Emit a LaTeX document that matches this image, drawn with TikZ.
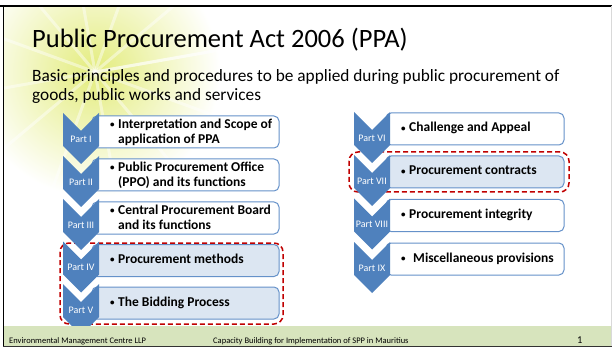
\documentclass[tikz,border=0pt]{standalone}
\usepackage{fontspec}
\setmainfont{Carlito}
\definecolor{chevblue}{HTML}{4F81BD}
\definecolor{boxline}{HTML}{6591C9}
\definecolor{boxhi}{HTML}{DCE6F2}
\definecolor{dashred}{HTML}{C00000}
\definecolor{footgreen}{HTML}{D7E4BD}
\definecolor{wmark}{HTML}{E3EC7C}
\tikzset{
  chev/.style={fill=chevblue, draw=none},
  part box/.style={draw=boxline, line width=1pt, rounded corners=5pt, fill=white, inner sep=0pt},
  part box hi/.style={part box, fill=boxhi},
  part label/.style={text=white, font=\fontsize{10}{12}\selectfont, inner sep=0pt},
  item text/.style={anchor=west, inner sep=0pt, font=\bfseries\fontsize{13.5}{15}\selectfont},
  focus frame/.style={draw=dashred, line width=1.5pt, dash pattern=on 5pt off 3pt, rounded corners=9pt},
  foot text/.style={anchor=base west, inner sep=0pt, font=\fontsize{8.5}{9}\selectfont},
}
% chevron: centre x, top y
\newcommand\partchev[2]{%
  \fill[chev] ({#1-18},#2) -- (#1,{#2+18}) -- ({#1+18},#2) -- ({#1+18},{#2+33})
    -- (#1,{#2+51}) -- ({#1-18},{#2+33}) -- cycle;}
\newcommand\bul{\raisebox{0.6pt}{\fontsize{9}{9}\selectfont\textbullet}}
\newcommand\itemline[2][8pt]{\begin{tabular}{@{}p{#1}@{}l@{}}\bul & #2\end{tabular}}
\newcommand\itemlines[2]{\begin{tabular}{@{}p{8pt}@{}l@{}}\bul & #1\\ & #2\end{tabular}}

\begin{document}
\begin{tikzpicture}[x=1pt, y=-1pt]
  \useasboundingbox (0,0) rectangle (612,347);
  % watermark
  \begin{scope}
    \clip (3.3,5.7) rectangle (611,326);
    \shade[inner color=wmark, outer color=white] (95,72) circle (125pt);
    \foreach \a in {10,40,...,370}
      \draw[white, line width=3pt, opacity=0.45] (95,72) -- ++(\a:122pt);
  \end{scope}

  \node[anchor=base west, inner sep=0pt, font=\fontsize{26.5}{30}\selectfont] (title) at (32,48)
    {Public Procurement Act 2006 (PPA)};
  \node[anchor=base west, inner sep=0pt, font=\fontsize{17.3}{19}\selectfont] (sub1) at (32,82)
    {Basic principles and procedures to be applied during public procurement of};
  \node[anchor=base west, inner sep=0pt, font=\fontsize{17.3}{19}\selectfont] (sub2) at (32,101)
    {goods, public works and services};

  % dashed focus frames
  \draw[focus frame] (60,243) rectangle (283,324);
  \draw[focus frame] (349,152) rectangle (569,192);

  % left column
  \node[part box, minimum width=187pt, minimum height=32pt] (b1) at (185.5,132) {};
  \node[part box, minimum width=187pt, minimum height=32pt] (b2) at (185.5,175) {};
  \node[part box, minimum width=187pt, minimum height=32pt] (b3) at (185.5,218) {};
  \node[part box hi, minimum width=187pt, minimum height=32pt] (b4) at (185.5,260.5) {};
  \node[part box hi, minimum width=187pt, minimum height=32pt] (b5) at (185.5,303) {};
  \partchev{81}{113}
  \partchev{81}{156}
  \partchev{81}{199}
  \partchev{81}{241.5}
  \partchev{81}{284}
  \node[part label] (p1) at (81,139) {Part I};
  \node[part label] (p2) at (81,182) {Part II};
  \node[part label] (p3) at (81,225) {Part III};
  \node[part label] (p4) at (81,267.5) {Part IV};
  \node[part label] (p5) at (81,310) {Part V};
  \node[item text] (t1) at (110,133) {\itemlines{Interpretation and Scope of}{application of PPA}};
  \node[item text] (t2) at (110,176) {\itemlines{Public Procurement Office}{(PPO) and its functions}};
  \node[item text] (t3) at (110,219) {\itemlines{Central Procurement Board}{and its functions}};
  \node[item text] (t4) at (110,260.5) {\itemline{Procurement methods}};
  \node[item text] (t5) at (110,303) {\itemline{The Bidding Process}};

  % right column
  \node[part box, minimum width=178pt, minimum height=32pt] (b6) at (475,129) {};
  \node[part box hi, minimum width=178pt, minimum height=32pt] (b7) at (475,172) {};
  \node[part box, minimum width=178pt, minimum height=32pt] (b8) at (475,215.5) {};
  \node[part box, minimum width=178pt, minimum height=32pt] (b9) at (475,259) {};
  \partchev{372}{112}
  \partchev{372}{155}
  \partchev{372}{198.5}
  \partchev{372}{242}
  \node[part label] (p6) at (372,138) {Part VI};
  \node[part label] (p7) at (372,181) {Part VII};
  \node[part label] (p8) at (372,224.5) {Part VIII};
  \node[part label] (p9) at (372,268) {Part IX};
  \node[item text] (t6) at (401,129) {\itemline{Challenge and Appeal}};
  \node[item text] (t7) at (401,172) {\itemline{Procurement contracts}};
  \node[item text] (t8) at (401,215.5) {\itemline{Procurement integrity}};
  \node[item text] (t9) at (401,259) {\itemline[12pt]{Miscellaneous provisions}};

  % footer
  \fill[footgreen] (3.3,326) rectangle (611,346);
  \node[foot text] (f1) at (9,343) {Environmental Management Centre LLP};
  \node[foot text] (f2) at (213,343) {Capacity Building for Implementation of SPP in Mauritius};
  \node[anchor=base west, inner sep=0pt, font=\fontsize{10.5}{12}\selectfont] (pg) at (577,343.5) {1};

  % slide frame
  \draw[black, line width=2pt] (0,5.7) -- (612,5.7);
  \draw[black, line width=1.4pt] (3.3,5) -- (3.3,347);
  \draw[black!80, line width=1.2pt] (3,346.4) -- (612,346.4);
  \draw[black!15, line width=0.8pt] (611.3,6) -- (611.3,346);
\end{tikzpicture}
\end{document}
